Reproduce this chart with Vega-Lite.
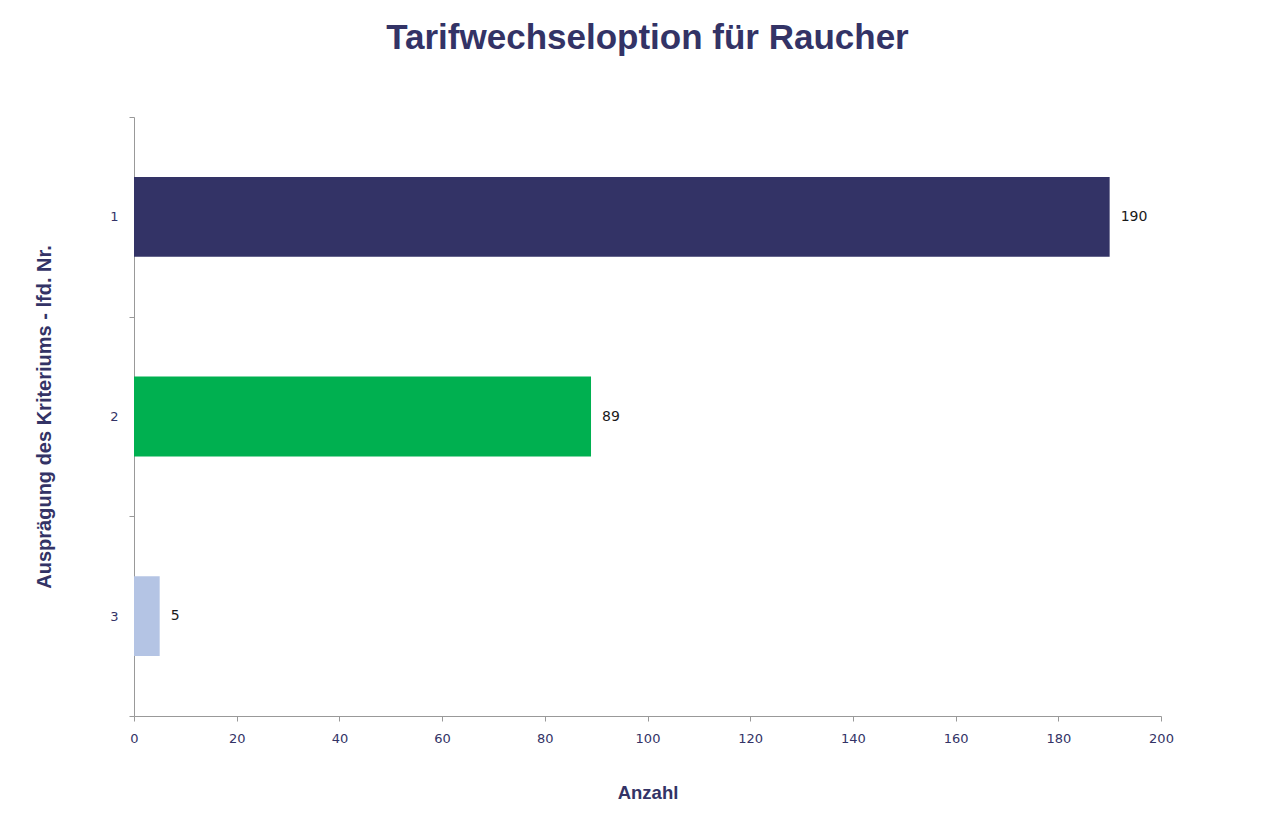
{
  "$schema": "https://vega.github.io/schema/vega-lite/v6.json",
  "autosize": {"type": "none"},
  "width": 1027,
  "height": 599,
  "padding": {"left": 134, "top": 117, "right": 124, "bottom": 120},
  "background": "white",
  "title": {
    "text": "Tarifwechseloption für Raucher",
    "anchor": "middle",
    "font": "Liberation Sans",
    "fontSize": 35,
    "fontWeight": "bold",
    "color": "#333366",
    "offset": 55
  },
  "data": {
    "values": [
      {"nr": "1", "anzahl": 190, "farbe": "a"},
      {"nr": "2", "anzahl": 89, "farbe": "b"},
      {"nr": "3", "anzahl": 5, "farbe": "c"}
    ]
  },
  "encoding": {
    "y": {
      "field": "nr",
      "type": "nominal",
      "sort": ["1", "2", "3"],
      "scale": {"paddingInner": 0, "paddingOuter": 0},
      "title": "Ausprägung des Kriteriums - lfd. Nr.",
      "axis": {
        "tickBand": "extent",
        "domainColor": "#999999",
        "tickColor": "#999999",
        "tickSize": 5,
        "labelFont": "DejaVu Sans",
        "labelFontSize": 13,
        "labelColor": "#333366",
        "labelPadding": 11,
        "titleFont": "Liberation Sans",
        "titleFontSize": 20,
        "titleFontWeight": "bold",
        "titleColor": "#333366",
        "titlePadding": 55,
        "labelAngle": 0
      }
    },
    "x": {
      "field": "anzahl",
      "type": "quantitative",
      "scale": {"domain": [0, 200], "nice": false},
      "title": "Anzahl",
      "axis": {
        "values": [0, 20, 40, 60, 80, 100, 120, 140, 160, 180, 200],
        "grid": false,
        "labelFlush": false,
        "domainColor": "#999999",
        "tickColor": "#999999",
        "tickSize": 5,
        "labelFont": "DejaVu Sans",
        "labelFontSize": 13,
        "labelColor": "#333366",
        "labelPadding": 11,
        "titleFont": "Liberation Sans",
        "titleFontSize": 18.5,
        "titleFontWeight": "bold",
        "titleColor": "#333366",
        "titlePadding": 38
      }
    }
  },
  "layer": [
    {
      "mark": {"type": "bar", "height": {"band": 0.4}},
      "encoding": {
        "color": {
          "field": "farbe",
          "type": "nominal",
          "scale": {"domain": ["a", "b", "c"], "range": ["#333366", "#00B050", "#B4C4E4"]},
          "legend": null
        }
      }
    },
    {
      "mark": {"type": "text", "align": "left", "dx": 11, "font": "DejaVu Sans", "fontSize": 14, "color": "#1a1a1a"},
      "encoding": {"text": {"field": "anzahl", "type": "quantitative"}}
    }
  ],
  "config": {"view": {"stroke": null}}
}
